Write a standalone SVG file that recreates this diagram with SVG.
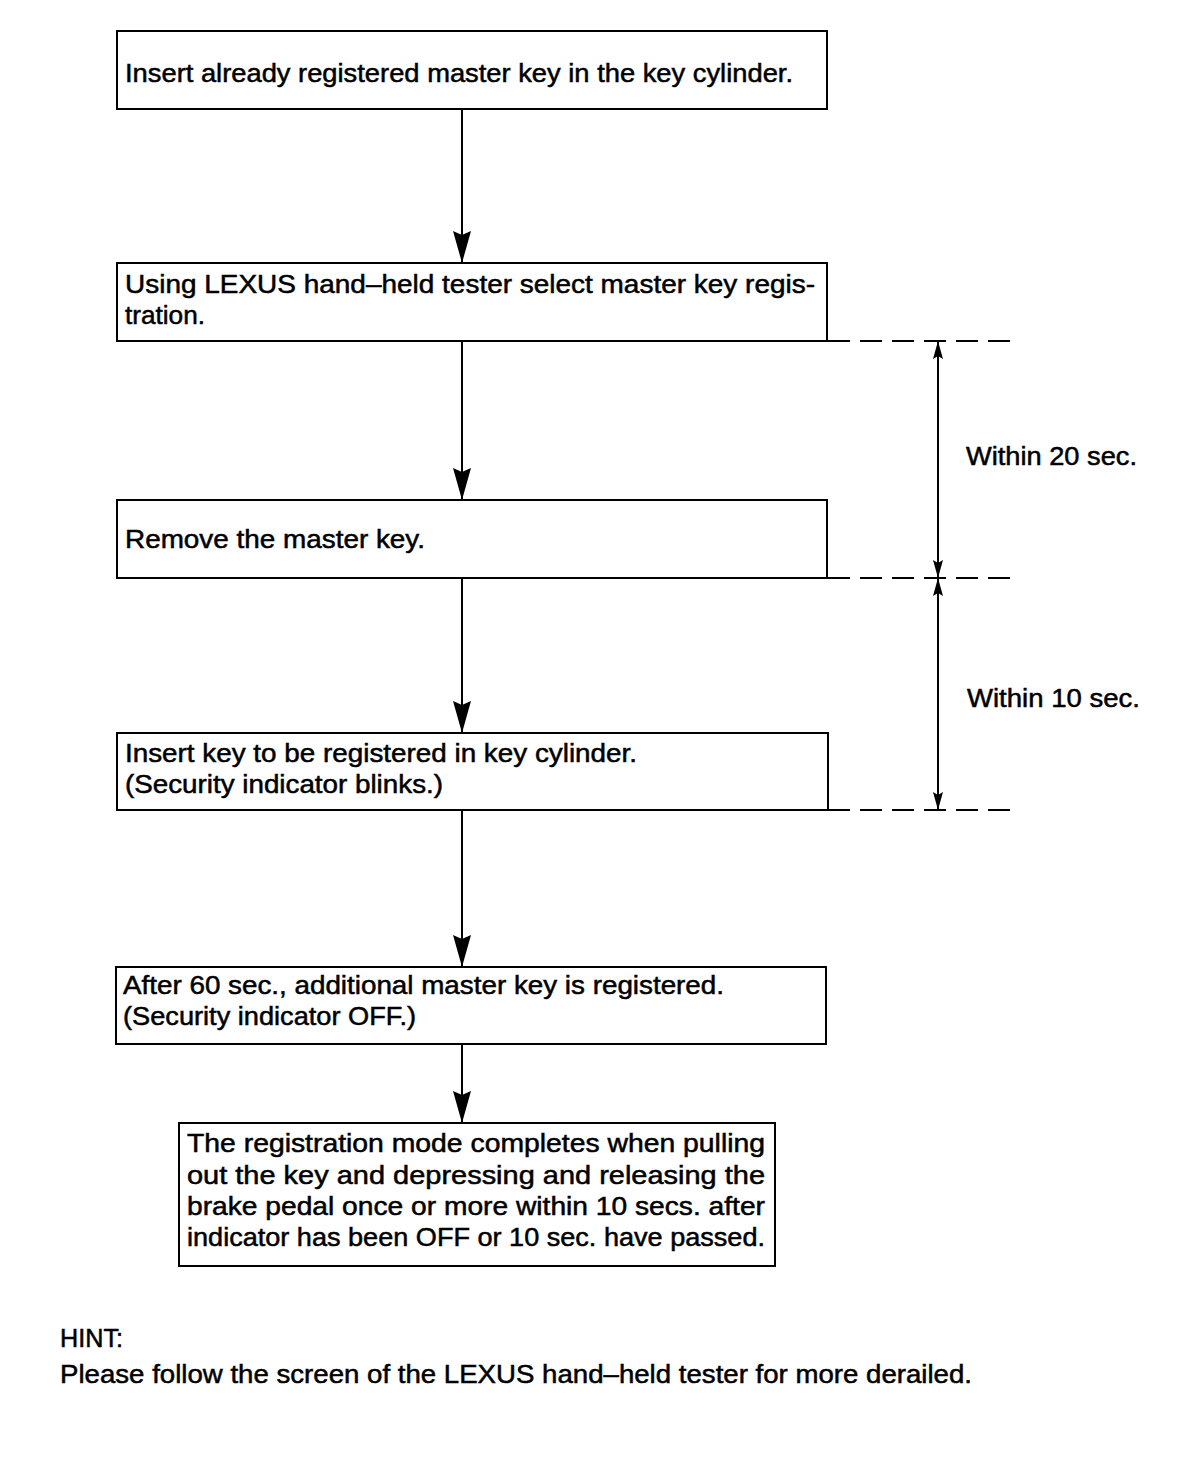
<svg xmlns="http://www.w3.org/2000/svg" width="1200" height="1462" viewBox="0 0 1200 1462">
<style>
.box{fill:#fff;stroke:#000;stroke-width:2}
.t{font-family:"Liberation Sans",Arial,sans-serif;font-size:25px;fill:#000;stroke:#000;stroke-width:0.5}
.ln{stroke:#000;stroke-width:2;fill:none}
.dash{stroke:#000;stroke-width:2;stroke-dasharray:22,10;fill:none}
</style>
<defs>
<marker id="ah" markerUnits="userSpaceOnUse" markerWidth="32" markerHeight="20" refX="31" refY="9" orient="auto" viewBox="0 0 32 18">
<path d="M0,0 L4,9 L0,18 L32,9 Z" fill="#000"/>
</marker>
<marker id="dh" markerUnits="userSpaceOnUse" markerWidth="18" markerHeight="12" refX="17" refY="5" orient="auto-start-reverse" viewBox="0 0 18 10">
<path d="M0,0 L3,5 L0,10 L18,5 Z" fill="#000"/>
</marker>
</defs>
<rect width="1200" height="1462" fill="#fff"/>
<g id="connectors">
<line class="ln" x1="462" y1="109" x2="462" y2="262" marker-end="url(#ah)"/>
<line class="ln" x1="462" y1="341" x2="462" y2="499" marker-end="url(#ah)"/>
<line class="ln" x1="462" y1="578" x2="462" y2="732" marker-end="url(#ah)"/>
<line class="ln" x1="462" y1="810" x2="462" y2="966" marker-end="url(#ah)"/>
<line class="ln" x1="462" y1="1044" x2="462" y2="1122" marker-end="url(#ah)"/>
<line class="dash" x1="828" y1="341" x2="1015" y2="341"/>
<line class="dash" x1="828" y1="578" x2="1015" y2="578"/>
<line class="dash" x1="828" y1="810" x2="1015" y2="810"/>
<line class="ln" x1="938" y1="342" x2="938" y2="577" marker-start="url(#dh)" marker-end="url(#dh)"/>
<line class="ln" x1="938" y1="579" x2="938" y2="809" marker-start="url(#dh)" marker-end="url(#dh)"/>
<text class="t" x="966" y="465" textLength="171" lengthAdjust="spacingAndGlyphs">Within 20 sec.</text>
<text class="t" x="967" y="707" textLength="173" lengthAdjust="spacingAndGlyphs">Within 10 sec.</text>
</g>
<g id="n1">
<rect class="box" x="117" y="31" width="710" height="78"/>
<text class="t" x="125" y="82" textLength="668" lengthAdjust="spacingAndGlyphs">Insert already registered master key in the key cylinder.</text>
</g>
<g id="n2">
<rect class="box" x="117" y="263" width="710" height="78"/>
<text class="t" x="125" y="293" textLength="690" lengthAdjust="spacingAndGlyphs">Using LEXUS hand–held tester select master key regis-</text>
<text class="t" x="125" y="324" textLength="80" lengthAdjust="spacingAndGlyphs">tration.</text>
</g>
<g id="n3">
<rect class="box" x="117" y="500" width="710" height="78"/>
<text class="t" x="125" y="548" textLength="300" lengthAdjust="spacingAndGlyphs">Remove the master key.</text>
</g>
<g id="n4">
<rect class="box" x="117" y="733" width="711" height="77"/>
<text class="t" x="125" y="762" textLength="512" lengthAdjust="spacingAndGlyphs">Insert key to be registered in key cylinder.</text>
<text class="t" x="125" y="793" textLength="318" lengthAdjust="spacingAndGlyphs">(Security indicator blinks.)</text>
</g>
<g id="n5">
<rect class="box" x="116" y="967" width="710" height="77"/>
<text class="t" x="123" y="994" textLength="601" lengthAdjust="spacingAndGlyphs">After 60 sec., additional master key is registered.</text>
<text class="t" x="123" y="1025" textLength="293" lengthAdjust="spacingAndGlyphs">(Security indicator OFF.)</text>
</g>
<g id="n6">
<rect class="box" x="179" y="1123" width="596" height="143"/>
<text class="t" x="187" y="1152" textLength="578" lengthAdjust="spacingAndGlyphs">The registration mode completes when pulling</text>
<text class="t" x="187" y="1184" textLength="578" lengthAdjust="spacingAndGlyphs">out the key and depressing and releasing the</text>
<text class="t" x="187" y="1215" textLength="578" lengthAdjust="spacingAndGlyphs">brake pedal once or more within 10 secs. after</text>
<text class="t" x="187" y="1246" textLength="578" lengthAdjust="spacingAndGlyphs">indicator has been OFF or 10 sec. have passed.</text>
</g>
<g id="hint">
<text class="t" x="60" y="1347" textLength="63" lengthAdjust="spacingAndGlyphs">HINT:</text>
<text class="t" x="60" y="1383" textLength="912" lengthAdjust="spacingAndGlyphs">Please follow the screen of the LEXUS hand–held tester for more derailed.</text>
</g>
</svg>
